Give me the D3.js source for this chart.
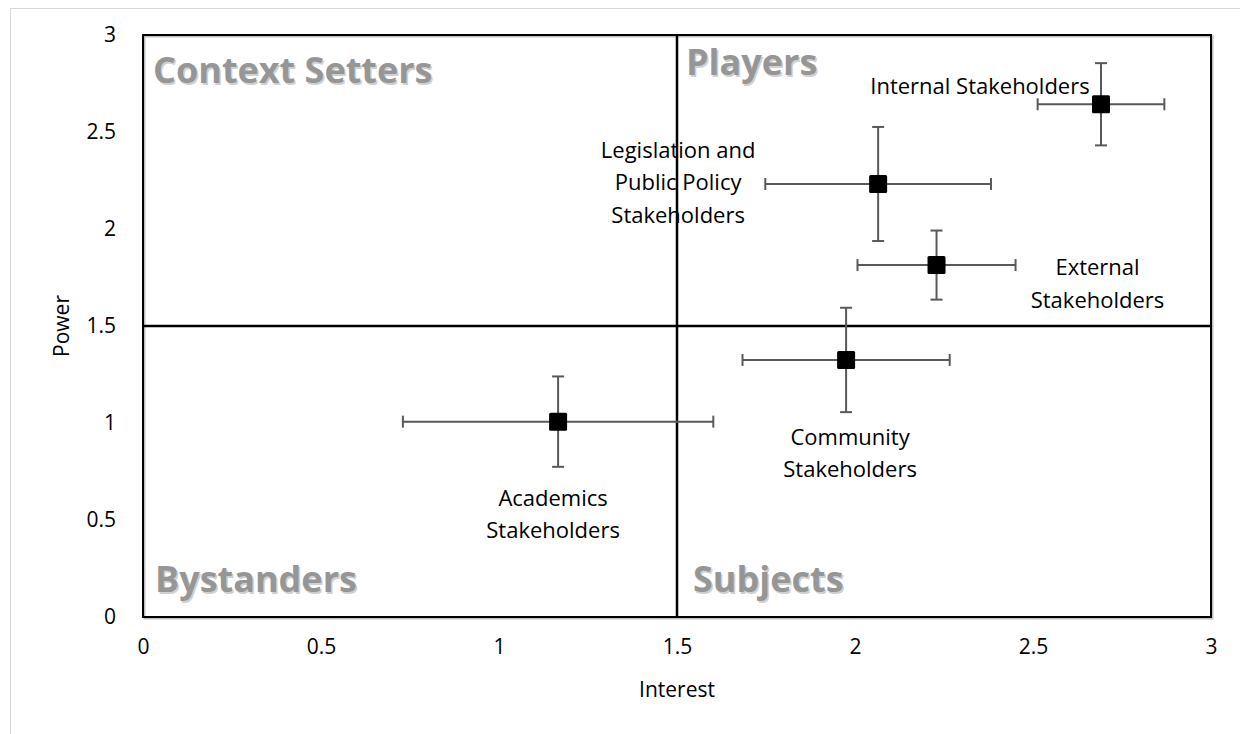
<!DOCTYPE html>
<html>
<head>
<meta charset="utf-8">
<script src="https://cdn.jsdelivr.net/npm/d3@7"></script>
<style>
  body { margin: 0; background: #fff; }
  text { font-family: "Open Sans", sans-serif; }
</style>
</head>
<body>
<div id="chart"></div>
<script>
// stakeholder groups, mean interest / power with error half-widths
const names = ["Internal Stakeholders", "Legislation and Public Policy Stakeholders", "External Stakeholders", "Community Stakeholders", "Academics Stakeholders"];
const interest = [2.691, 2.065, 2.229, 1.975, 1.166];
const interestErr = [0.178, 0.317, 0.222, 0.291, 0.436];
const power = [2.643, 2.232, 1.814, 1.325, 1.007];
const powerErr = [0.212, 0.294, 0.178, 0.269, 0.233];
const labelLines = [["Internal Stakeholders"], ["Legislation and", "Public Policy", "Stakeholders"], ["External", "Stakeholders"], ["Community", "Stakeholders"], ["Academics", "Stakeholders"]];
const quadrants = ["Context Setters", "Players", "Bystanders", "Subjects"];
const ticks = [0, 0.5, 1, 1.5, 2, 2.5, 3];

const width = 1240, height = 734;
const margin = { left: 143, right: 29, top: 35, bottom: 117 };
const tickSize = 21;
const labelSize = 22;

const svg = d3.select("#chart").append("svg")
  .attr("width", width).attr("height", height);

// outer chart frame
svg.append("rect").attr("x", 10.5).attr("y", 8.5)
  .attr("width", width).attr("height", height)
  .attr("fill", "none").attr("stroke", "#d9d9d9");

const x = d3.scaleLinear().domain([0, 3]).range([margin.left, width - margin.right]);
const y = d3.scaleLinear().domain([0, 3]).range([height - margin.bottom, margin.top]);

// axes (tick labels only)
const xAxis = svg.append("g")
  .attr("transform", "translate(0," + (height - margin.bottom) + ")")
  .call(d3.axisBottom(x).tickValues(ticks).tickSize(0).tickPadding(22).tickFormat(d3.format("")));
const yAxis = svg.append("g")
  .attr("transform", "translate(" + margin.left + ",0)")
  .call(d3.axisLeft(y).tickValues(ticks).tickSize(0).tickPadding(27).tickFormat(d3.format("")));
[xAxis, yAxis].forEach((g) => {
  g.select(".domain").remove();
  g.selectAll("text").attr("font-size", tickSize).attr("fill", "#000")
    .style("font-family", "'Open Sans', sans-serif");
});

svg.append("text").attr("x", (x(0) + x(3)) / 2).attr("y", 697)
  .attr("text-anchor", "middle").attr("font-size", tickSize).text("Interest");
svg.append("text").attr("transform", "translate(69," + (y(1.5)) + ") rotate(-90)")
  .attr("text-anchor", "middle").attr("font-size", tickSize).text("Power");

// plot border with soft shadow
svg.append("rect").attr("x", x(0) + 1.5).attr("y", y(3) + 1.5)
  .attr("width", x(3) - x(0)).attr("height", y(0) - y(3))
  .attr("fill", "none").attr("stroke", "#bfbfbf").attr("stroke-width", 2);
svg.append("rect").attr("x", x(0)).attr("y", y(3))
  .attr("width", x(3) - x(0)).attr("height", y(0) - y(3))
  .attr("fill", "none").attr("stroke", "#000").attr("stroke-width", 2);

// quadrant dividers
svg.append("line").attr("x1", x(1.5)).attr("x2", x(1.5)).attr("y1", y(3)).attr("y2", y(0))
  .attr("stroke", "#000").attr("stroke-width", 2.5);
svg.append("line").attr("x1", x(0)).attr("x2", x(3)).attr("y1", y(1.5)).attr("y2", y(1.5))
  .attr("stroke", "#000").attr("stroke-width", 2.5);

// quadrant titles
const qPos = [[x(0) + 10, y(3) + 48], [x(1.5) + 9, y(3) + 40], [x(0) + 12, y(0) - 25], [x(1.5) + 16, y(0) - 25]];
quadrants.forEach((q, i) => {
  svg.append("text").attr("x", qPos[i][0] + 1.5).attr("y", qPos[i][1] + 1.5)
    .attr("font-size", 36).attr("font-weight", "bold").attr("fill", "#d0d0d0").text(q);
  svg.append("text").attr("x", qPos[i][0]).attr("y", qPos[i][1])
    .attr("font-size", 36).attr("font-weight", "bold").attr("fill", "#969696").text(q);
});

const data = names.map((n, i) => ({
  name: n, x: interest[i], xe: interestErr[i], y: power[i], ye: powerErr[i], lines: labelLines[i]
}));

// error bars
const eb = svg.append("g").attr("stroke", "#595959").attr("stroke-width", 2);
const cap = 6;
data.forEach((d) => {
  eb.append("line").attr("x1", x(d.x - d.xe)).attr("x2", x(d.x + d.xe)).attr("y1", y(d.y)).attr("y2", y(d.y));
  eb.append("line").attr("x1", x(d.x)).attr("x2", x(d.x)).attr("y1", y(d.y - d.ye)).attr("y2", y(d.y + d.ye));
  [d.x - d.xe, d.x + d.xe].forEach((v) => {
    eb.append("line").attr("x1", x(v)).attr("x2", x(v)).attr("y1", y(d.y) - cap).attr("y2", y(d.y) + cap);
  });
  [d.y - d.ye, d.y + d.ye].forEach((v) => {
    eb.append("line").attr("x1", x(d.x) - cap).attr("x2", x(d.x) + cap).attr("y1", y(v)).attr("y2", y(v));
  });
});

// markers
svg.append("g").selectAll("rect").data(data).enter().append("rect")
  .attr("x", (d) => x(d.x) - 9).attr("y", (d) => y(d.y) - 9)
  .attr("width", 18).attr("height", 18).attr("rx", 1.5).attr("fill", "#000");

// point labels (offsets from the marker)
const labelOffset = [[-121, -10], [-200, -26], [161, 10], [4, 85], [-5, 84]];
data.forEach((d, i) => {
  const t = svg.append("text").attr("text-anchor", "middle").attr("font-size", labelSize).attr("fill", "#000");
  d.lines.forEach((l, j) => {
    t.append("tspan").attr("x", x(d.x) + labelOffset[i][0])
      .attr("y", y(d.y) + labelOffset[i][1] + j * 32.5).text(l);
  });
});
</script>
</body>
</html>
